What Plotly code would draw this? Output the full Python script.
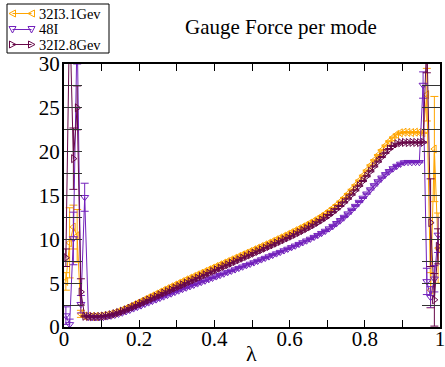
import numpy as np
import plotly.graph_objects as go

# sampling points in lambda
lam = np.round(np.arange(100) * 0.01 + 0.005, 3)

force_31 = [5.2, 9.6, 11.4, 10.4, 1.5, 1.25, 1.22, 1.20, 1.20, 1.22,
            1.28, 1.36, 1.47, 1.60, 1.75, 1.92, 2.10, 2.30, 2.50, 2.71,
            2.92, 3.13, 3.34, 3.55, 3.76, 3.97, 4.18, 4.38, 4.58, 4.78,
            4.98, 5.18, 5.38, 5.57, 5.76, 5.95, 6.14, 6.33, 6.52, 6.71,
            6.90, 7.09, 7.28, 7.47, 7.66, 7.85, 8.04, 8.23, 8.42, 8.61,
            8.80, 8.99, 9.18, 9.37, 9.56, 9.76, 9.96, 10.16, 10.36, 10.56,
            10.77, 10.98, 11.19, 11.41, 11.63, 11.86, 12.10, 12.35, 12.62, 12.91,
            13.22, 13.55, 13.91, 14.30, 14.72, 15.17, 15.65, 16.16, 16.70, 17.26,
            17.84, 18.43, 19.02, 19.60, 20.16, 20.69, 21.18, 21.62, 21.96, 22.15,
            22.22, 22.20, 22.18, 22.22, 22.20, 22.15, 26.5, 4.2, 20.3, 9.0]

force_48 = [1.3, 0.3, 10.1, 34.0, 2.6, 14.8, 1.12, 1.10, 1.09, 1.10,
            1.13, 1.19, 1.27, 1.37, 1.49, 1.62, 1.77, 1.93, 2.10, 2.27,
            2.44, 2.61, 2.78, 2.95, 3.12, 3.29, 3.46, 3.63, 3.80, 3.97,
            4.14, 4.31, 4.47, 4.63, 4.79, 4.95, 5.11, 5.27, 5.43, 5.59,
            5.75, 5.91, 6.07, 6.23, 6.39, 6.55, 6.71, 6.87, 7.03, 7.19,
            7.35, 7.52, 7.69, 7.86, 8.03, 8.20, 8.37, 8.54, 8.72, 8.90,
            9.08, 9.26, 9.45, 9.64, 9.84, 10.04, 10.25, 10.47, 10.70, 10.95,
            11.22, 11.51, 11.83, 12.17, 12.54, 12.93, 13.35, 13.79, 14.25, 14.72,
            15.20, 15.68, 16.15, 16.60, 17.02, 17.41, 17.76, 18.08, 18.36, 18.60,
            18.76, 18.80, 18.78, 18.80, 18.79, 27.6, 5.2, 3.4, 5.5, 10.5]

force_28 = [7.9, 36.0, 19.2, 25.0, 4.0, 1.22, 1.20, 1.18, 1.18, 1.19,
            1.24, 1.31, 1.40, 1.52, 1.65, 1.80, 1.96, 2.14, 2.32, 2.51,
            2.70, 2.89, 3.08, 3.27, 3.46, 3.66, 3.86, 4.05, 4.24, 4.43,
            4.62, 4.81, 5.00, 5.19, 5.38, 5.57, 5.76, 5.95, 6.14, 6.33,
            6.52, 6.71, 6.90, 7.09, 7.28, 7.47, 7.66, 7.85, 8.04, 8.23,
            8.42, 8.61, 8.80, 8.99, 9.18, 9.37, 9.56, 9.76, 9.96, 10.16,
            10.36, 10.57, 10.78, 11.00, 11.22, 11.45, 11.68, 11.93, 12.19, 12.47,
            12.77, 13.09, 13.44, 13.81, 14.21, 14.64, 15.10, 15.59, 16.11, 16.65,
            17.20, 17.76, 18.32, 18.87, 19.39, 19.87, 20.30, 20.65, 20.90, 21.02,
            21.05, 21.04, 21.06, 21.05, 21.04, 21.06, 33.0, 11.9, 3.1, 9.2]

err_31 = [1.0, 4.0, 2.5, 3.0, 0.4] + [0.06] * 91 + [3.0, 2.0, 6.0, 4.0]
err_48 = [1.0, 0.6, 3.0, 4.0, 1.0, 1.6] + [0.06] * 89 + [1.5, 1.5, 1.2, 1.5, 2.0]
err_28 = [1.0, 3.0, 3.5, 2.5, 1.5] + [0.06] * 91 + [4.0, 5.0, 3.0, 2.0]

names = ["32I3.1Gev", "48I", "32I2.8Gev"]
colors = ["#FFA500", "#7221BC", "#670748"]
symbols = ["triangle-left-open", "triangle-down-open", "triangle-right-open"]
series = [force_31, force_48, force_28]
errors = [err_31, err_48, err_28]

SERIF = "Liberation Serif, Times New Roman, serif"
W, H = 445, 367
L, R, T, B = 64, 5, 64, 40
PW, PH = W - L - R, H - T - B


def px(x):
    return (x - L) / PW


def py(y):
    return (H - B - y) / PH


fig = go.Figure()
for name, col, sym, ys, es in zip(names, colors, symbols, series, errors):
    fig.add_trace(go.Scatter(
        x=lam, y=ys, name=name, mode="lines+markers",
        line=dict(color=col, width=1),
        marker=dict(symbol=sym, size=7, color=col, line=dict(color=col, width=1)),
        error_y=dict(type="data", array=es, visible=True, color=col,
                     thickness=1, width=4),
        showlegend=False,
    ))

# legend box drawn by hand: short line with a symbol at each end
shapes = [dict(type="rect", xref="paper", yref="paper",
               x0=px(7), x1=px(109), y0=py(53), y1=py(4),
               line=dict(color="black", width=1), fillcolor="white", layer="above")]
annotations = []
tri = {
    "triangle-left-open": "M -3.5 0 L 3 3.5 L 3 -3.5 Z",
    "triangle-down-open": "M -3.5 3 L 3.5 3 L 0 -3.5 Z",
    "triangle-right-open": "M 3.5 0 L -3 3.5 L -3 -3.5 Z",
}
rows = [13.5, 29.5, 44.5]
for name, col, sym, yrow in zip(names, colors, symbols, rows):
    shapes.append(dict(type="line", xref="paper", yref="paper",
                       x0=px(12.5), x1=px(31.5), y0=py(yrow), y1=py(yrow),
                       line=dict(color=col, width=1), layer="above"))
    for xm in (12.5, 31.5):
        shapes.append(dict(type="path", xref="paper", yref="paper",
                           xsizemode="pixel", ysizemode="pixel",
                           xanchor=px(xm), yanchor=py(yrow), path=tri[sym],
                           line=dict(color=col, width=1), fillcolor="rgba(0,0,0,0)",
                           layer="above"))
    annotations.append(dict(text=name, xref="paper", yref="paper",
                            x=px(36.5), y=py(yrow), xanchor="left", yanchor="middle",
                            showarrow=False,
                            font=dict(family=SERIF, size=14.5, color="black")))

annotations.append(dict(text="Gauge Force per mode", xref="paper", yref="paper",
                        x=px(281), y=py(27), xanchor="center", yanchor="middle",
                        showarrow=False, font=dict(family=SERIF, size=21, color="black")))
annotations.append(dict(text="λ", xref="paper", yref="paper",
                        x=px(251), y=py(353), xanchor="center", yanchor="middle",
                        showarrow=False, font=dict(family=SERIF, size=22, color="black")))

xt = [round(0.1 * k, 1) for k in range(11)]
xl = ["0", "", "0.2", "", "0.4", "", "0.6", "", "0.8", "", "1"]
yt = [2.5 * k for k in range(13)]
yl = [("%g" % v) if k % 2 == 0 else "" for k, v in enumerate(yt)]

fig.update_layout(
    width=W, height=H,
    margin=dict(l=L, r=R, t=T, b=B, pad=0),
    paper_bgcolor="white", plot_bgcolor="white",
    shapes=shapes, annotations=annotations,
    font=dict(family=SERIF, color="black"),
    xaxis=dict(range=[0, 1], tickvals=xt, ticktext=xl, ticks="inside", ticklen=7,
               tickwidth=1, tickcolor="black", showline=True, linecolor="black",
               linewidth=2, mirror="ticks", showgrid=False, zeroline=False,
               automargin=False, ticklabeloverflow="allow", ticklabelstandoff=-8,
               tickfont=dict(family=SERIF, size=21, color="black")),
    yaxis=dict(range=[0, 30], tickvals=yt, ticktext=yl, ticks="inside", ticklen=18,
               tickwidth=1.2, tickcolor="#333", showline=True, linecolor="black",
               linewidth=2, mirror="ticks", showgrid=False, zeroline=False,
               automargin=False, ticklabeloverflow="allow", ticklabelstandoff=-2,
               tickfont=dict(family=SERIF, size=21, color="black")),
)

fig.write_html("out.html")
